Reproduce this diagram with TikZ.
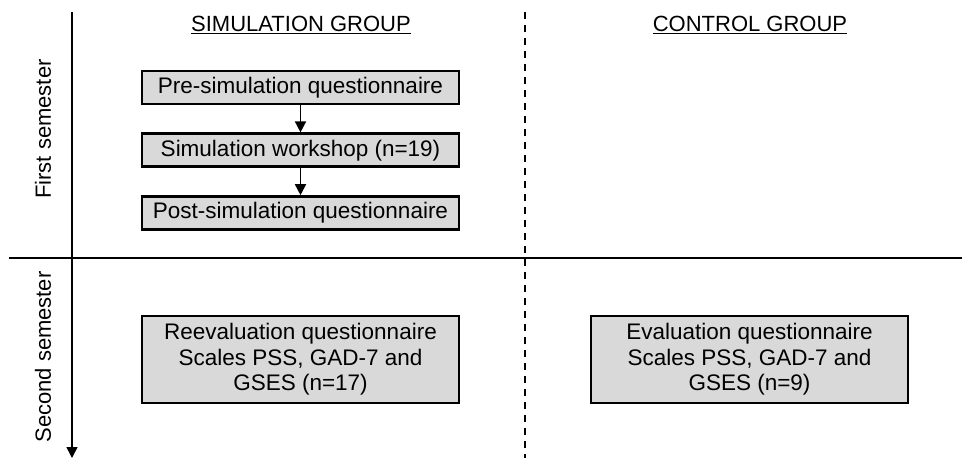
\documentclass[tikz,border=0pt]{standalone}
\usepackage{fontspec}
\setmainfont{Liberation Sans}
\usetikzlibrary{arrows.meta, positioning}
\definecolor{boxgray}{HTML}{D9D9D9}
\begin{document}
\begin{tikzpicture}[x=1pt, y=-1pt,
  box/.style={draw, line width=2.8pt, fill=boxgray, minimum width=317pt, minimum height=33pt,
    font=\fontsize{22.5}{25.5}\selectfont, align=center, inner sep=2pt},
  head/.style={font=\fontsize{22}{26}\selectfont},
  arr/.style={-{Triangle[length=11pt, width=11pt]}, line width=1.6pt}
]
\useasboundingbox (0,0) rectangle (962,458);
\node[head] (simhead) at (301,25) {\underline{SIMULATION GROUP}};
\node[head] (ctrlhead) at (750,25) {\underline{CONTROL GROUP}};
\node[box] (pre) at (300.5,87.5) {Pre-simulation questionnaire};
\node[box, below=27pt of pre] (work) {Simulation workshop (n=19)};
\node[box, below=27pt of work] (post) {Post-simulation questionnaire};
\node[box, minimum height=87pt] (reeval) at (300.5,359.5) {Reevaluation questionnaire\\Scales PSS, GAD-7 and\\GSES (n=17)};
\node[box, minimum height=87pt] (eval) at (749.5,359.5) {Evaluation questionnaire\\Scales PSS, GAD-7 and\\GSES (n=9)};
\node[head, rotate=90] (sem1) at (43,129) {First semester};
\node[head, rotate=90] (sem2) at (43,357) {Second semester};
\coordinate (axtop) at (72,12);
\coordinate (axbot) at (72,458);
\coordinate (hleft) at (9,258);
\coordinate (hright) at (962,258);
\coordinate (dtop) at (525,12);
\coordinate (dbot) at (525,458);
\draw[arr] (pre) -- (work);
\draw[arr] (work) -- (post);
\draw[arr] (axtop) -- (axbot);
\draw[line width=1.6pt] (hleft) -- (hright);
\draw[line width=2pt, dash pattern=on 7pt off 6pt] (dtop) -- (dbot);
\end{tikzpicture}
\end{document}
